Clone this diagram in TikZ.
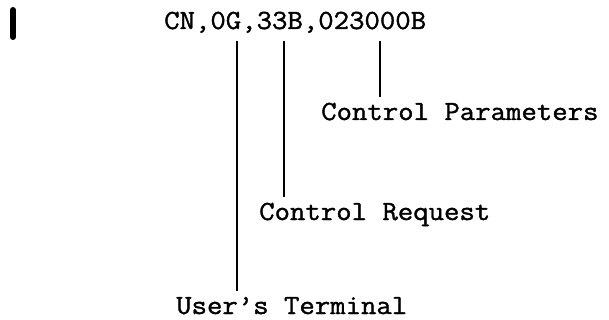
\documentclass[tikz,border=0pt]{standalone}
\usepackage{fontspec}
\setmonofont{Latin Modern Mono}[FakeStretch=1.08, FakeBold=1.3]
\usetikzlibrary{positioning}

\begin{document}
\begin{tikzpicture}[x=1pt,y=1pt,
    lbl/.style={font=\fontsize{27.7}{32}\ttfamily, inner sep=0pt},
    tick/.style={line width=1.6pt, shorten >=6pt}]
        \useasboundingbox (0,0) rectangle (609,-320);

        % Change bar
        \draw[line width=6pt, line cap=round] (13,-10) -- (13,-37);

        % Command
        \node[lbl, anchor=base west] (cmd) at (164,-29) {CN,0G,33B,023000B};
        \coordinate (utTop) at (237,-41);
        \coordinate (crTop) at (284,-41);
        \coordinate (cpTop) at (380,-41);

        % Labels
        \node[lbl, anchor=base west] (cp) at (321,-120) {Control Parameters};
        \node[lbl, anchor=base west] (cr) at (259,-220) {Control Request};
        \node[lbl, anchor=base west] (ut) at (176,-314) {User’s Terminal};

        % Leaders
        \draw[tick] (cpTop) -- (cpTop |- cp.north);
        \draw[tick] (crTop) -- (crTop |- cr.north);
        \draw[tick] (utTop) -- (utTop |- ut.north);
    \end{tikzpicture}
\end{document}
